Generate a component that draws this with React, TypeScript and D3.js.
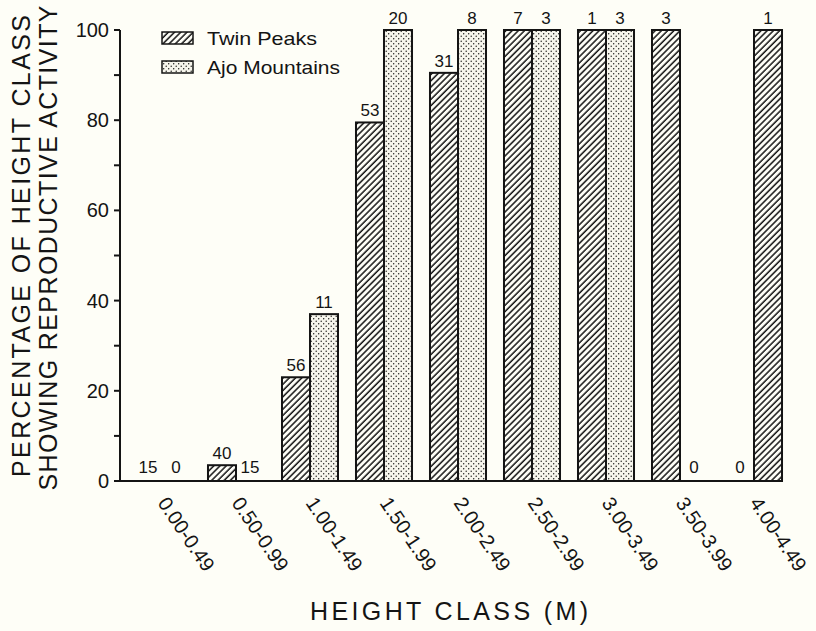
import React, { useEffect, useRef } from 'react'
import * as d3 from 'd3'

const categories = ['0.00-0.49', '0.50-0.99', '1.00-1.49', '1.50-1.99', '2.00-2.49', '2.50-2.99', '3.00-3.49', '3.50-3.99', '4.00-4.49']
const series = ['Twin Peaks', 'Ajo Mountains']
// percent of height class showing reproductive activity
const twinPeaks = [0, 3.5, 23, 79.5, 90.5, 100, 100, 100, 0]
const ajoMountains = [0, 0, 37, 100, 100, 100, 100, 0, 100]
// sample sizes printed over the bars
const twinPeaksN = [15, 40, 56, 53, 31, 7, 1, 3, 0]
const ajoMountainsN = [0, 15, 11, 20, 8, 3, 3, 0, 1]
const yTicks = [0, 10, 20, 30, 40, 50, 60, 70, 80, 90, 100]
const yTickLabels = [0, 20, 40, 60, 80, 100]
// the original figure draws this Ajo bar with the hatched fill
const hatchedAjo = ['4.00-4.49']

const INK = '#141414'
const FONT = '"Liberation Sans", Arial, sans-serif'

export default function App() {
  const ref = useRef<SVGSVGElement>(null)

  useEffect(() => {
    document.body.style.margin = '0'
    const svg = d3.select(ref.current)
    svg.selectAll('*').remove()
    const width = 816, height = 631

    svg.append('rect').attr('width', width).attr('height', height).attr('fill', '#fefef7')

    const defs = svg.append('defs')
    const hatch = defs.append('pattern')
      .attr('id', 'hatch').attr('patternUnits', 'userSpaceOnUse')
      .attr('width', 4.4).attr('height', 4.4)
      .attr('patternTransform', 'rotate(45)')
    hatch.append('rect').attr('width', 4.4).attr('height', 4.4).attr('fill', '#fefef7')
    hatch.append('line').attr('x1', 1).attr('y1', 0).attr('x2', 1).attr('y2', 4.4)
      .attr('stroke', INK).attr('stroke-width', 1.5)
    const dots = defs.append('pattern')
      .attr('id', 'dots').attr('patternUnits', 'userSpaceOnUse')
      .attr('width', 5).attr('height', 5)
    dots.append('rect').attr('width', 5).attr('height', 5).attr('fill', '#f6f5ec')
    dots.append('circle').attr('cx', 1.2).attr('cy', 1.2).attr('r', 0.7).attr('fill', INK)
    dots.append('circle').attr('cx', 3.7).attr('cy', 3.7).attr('r', 0.7).attr('fill', INK)

    const x = d3.scaleBand().domain(categories).range([120, 796]).paddingInner(0.243).paddingOuter(0.189)
    const xs = d3.scaleBand().domain(series).range([0, x.bandwidth()])
    const y = d3.scaleLinear().domain([0, 100]).range([481, 30])
    const xEnd = (x(categories[categories.length - 1]) as number) + x.bandwidth()

    const rows = categories.flatMap((c, i) => [
      { c, s: series[0], v: twinPeaks[i], n: twinPeaksN[i], fill: 'url(#hatch)' },
      { c, s: series[1], v: ajoMountains[i], n: ajoMountainsN[i], fill: hatchedAjo.includes(c) ? 'url(#hatch)' : 'url(#dots)' },
    ])

    const g = svg.append('g')
    g.selectAll('.bar')
      .data(rows.filter(d => d.v > 0))
      .enter()
      .append('rect')
      .attr('x', d => (x(d.c) as number) + (xs(d.s) as number))
      .attr('y', d => y(d.v))
      .attr('width', xs.bandwidth())
      .attr('height', d => y(0) - y(d.v))
      .attr('fill', d => d.fill)
      .attr('stroke', INK)
      .attr('stroke-width', 2)

    g.selectAll('.count')
      .data(rows)
      .enter()
      .append('text')
      .attr('x', d => (x(d.c) as number) + (xs(d.s) as number) + xs.bandwidth() / 2)
      .attr('y', d => y(d.v) - (d.v > 0 ? 6 : 8))
      .attr('text-anchor', 'middle')
      .attr('font-family', FONT)
      .attr('font-size', 17)
      .attr('fill', INK)
      .text(d => d.n)

    // axes
    svg.append('line').attr('x1', 120).attr('x2', xEnd).attr('y1', y(0)).attr('y2', y(0))
      .attr('stroke', INK).attr('stroke-width', 2)
    svg.append('line').attr('x1', 120).attr('x2', 120).attr('y1', y(0) + 1).attr('y2', y(100))
      .attr('stroke', INK).attr('stroke-width', 2)
    svg.selectAll('.ytick').data(yTicks).enter().append('line')
      .attr('x1', 114).attr('x2', 120).attr('y1', d => y(d)).attr('y2', d => y(d))
      .attr('stroke', INK).attr('stroke-width', 2)
    svg.selectAll('.ylab').data(yTickLabels).enter().append('text')
      .attr('x', 109).attr('y', d => y(d) + 7)
      .attr('text-anchor', 'end')
      .attr('font-family', FONT).attr('font-size', 20).attr('fill', INK)
      .text(d => d)

    svg.selectAll('.xlab').data(categories).enter().append('text')
      .attr('transform', d => `translate(${(x(d) as number) + x.bandwidth() / 2 - 5},503) rotate(56)`)
      .attr('font-family', FONT).attr('font-size', 20).attr('fill', INK)
      .text(d => d)

    svg.append('text')
      .attr('x', 449).attr('y', 620)
      .attr('text-anchor', 'middle')
      .attr('font-family', FONT).attr('font-size', 25).attr('fill', INK)
      .attr('textLength', 278).attr('lengthAdjust', 'spacing')
      .text('HEIGHT CLASS (M)')

    svg.append('text')
      .attr('transform', 'translate(30,246) rotate(-90)')
      .attr('text-anchor', 'middle')
      .attr('font-family', FONT).attr('font-size', 25).attr('fill', INK)
      .attr('textLength', 462).attr('lengthAdjust', 'spacing')
      .text('PERCENTAGE OF HEIGHT CLASS')
    svg.append('text')
      .attr('transform', 'translate(57,248) rotate(-90)')
      .attr('text-anchor', 'middle')
      .attr('font-family', FONT).attr('font-size', 25).attr('fill', INK)
      .attr('textLength', 485).attr('lengthAdjust', 'spacing')
      .text('SHOWING REPRODUCTIVE ACTIVITY')

    // legend
    const legend = svg.append('g')
    const legendTexts = [{ s: series[0], fill: 'url(#hatch)', w: 110 }, { s: series[1], fill: 'url(#dots)', w: 133 }]
    legendTexts.forEach((d, i) => {
      legend.append('rect').attr('x', 162).attr('y', 32 + i * 29).attr('width', 31).attr('height', 12)
        .attr('fill', d.fill).attr('stroke', INK).attr('stroke-width', 1.5)
      legend.append('text').attr('x', 207).attr('y', 45 + i * 29)
        .attr('font-family', FONT).attr('font-size', 19).attr('fill', INK)
        .attr('textLength', d.w).attr('lengthAdjust', 'spacingAndGlyphs')
        .text(d.s)
    })
  }, [])

  return (
    <div>
      <svg ref={ref} width='816' height='631' style={{ display: 'block' }}></svg>
    </div>
  )
}
